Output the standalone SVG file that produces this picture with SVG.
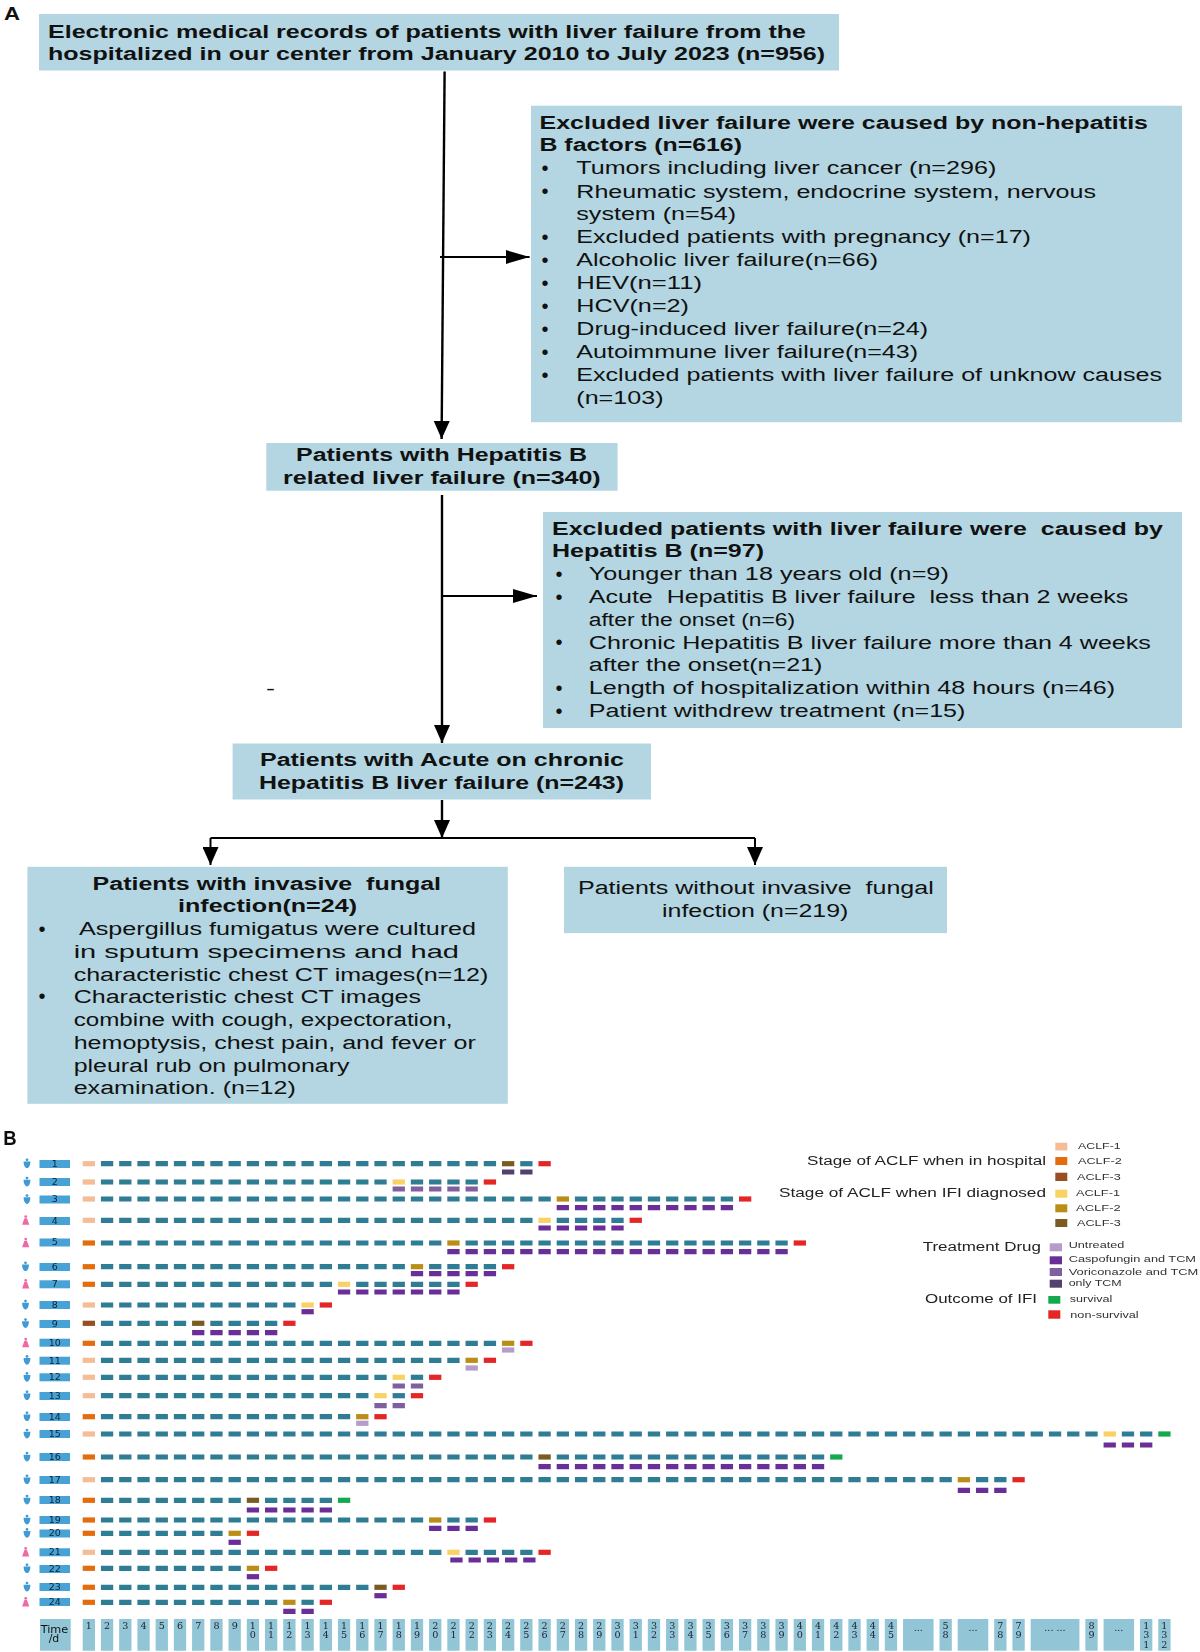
<svg xmlns="http://www.w3.org/2000/svg" width="1200" height="1652" viewBox="0 0 1200 1652">
<style>
text{font-family:"Liberation Sans",Arial,sans-serif;fill:#111;white-space:pre}
.t{font-size:18px}
.tb{font-size:18px;font-weight:700}
.bu{font-size:20px;text-anchor:middle}
.box{fill:#b3d6e2}
.con{fill:none;stroke:#000;stroke-width:2.4}
.lt{font-size:12px;fill:#222}
.ls{font-size:9.5px;fill:#333}
.lb{fill:#47a2d6}
.n{font-family:"DejaVu Sans",sans-serif;font-size:9.5px;text-anchor:middle;fill:#123}
.d{font-family:"DejaVu Serif",serif;font-size:9.6px;text-anchor:middle;fill:#223}
.cell{fill:#92c6d6}
path{fill:none;stroke-width:5.2}
.te{stroke:#2f7d94;stroke-dasharray:12.3 5.93}
.pu{stroke:#6a2f98;stroke-dasharray:12.3 5.93}
.vo{stroke:#7f5f9f;stroke-dasharray:12.3 5.93}
.un{stroke:#b69ccd}
.on{stroke:#52406e;stroke-dasharray:12.3 5.93}
.s1{stroke:#f4bd96}.s2{stroke:#e36c0f}.s3{stroke:#984d20}
.d1{stroke:#f8d265}.d2{stroke:#b98d14}.d3{stroke:#7a5c20}
.re{stroke:#e42526}.gr{stroke:#13a850}
</style>
<defs>
<marker id="ah" markerUnits="userSpaceOnUse" markerWidth="24" markerHeight="16" refX="24" refY="8" orient="auto"><polygon points="0,1 24,8 0,15" fill="#000"/></marker>
<marker id="av" markerUnits="userSpaceOnUse" markerWidth="18" markerHeight="16" refX="18" refY="8" orient="auto"><polygon points="0,0 18,8 0,16" fill="#000"/></marker>
<g id="m"><circle cy="-3.9" r="1.4" fill="#3f9bd5"/><path d="M-3.4-2.2H3.4C3.4 1 2.2 4.4 0 4.4S-3.4 1-3.4-2.2Z" style="fill:#3f9bd5;stroke:none"/></g>
<g id="f"><circle cy="-3.9" r="1.4" fill="#ee6aa7"/><path d="M-1.3-2.2H1.3L3.6 4.2H-3.6Z" style="fill:#ee6aa7;stroke:none"/></g>
<filter id="soft" x="0" y="0" width="1" height="1"><feGaussianBlur stdDeviation="0.4"/></filter>
</defs>
<text x="4" y="20" font-size="18" font-weight="700" textLength="16" lengthAdjust="spacingAndGlyphs">A</text>

<g id="connectors">
<path class="con" d="M444.6 71.4L441.6 439" marker-end="url(#av)" style="fill:none;stroke-width:2.4"/>
<path class="con" d="M440 257H529.6" marker-end="url(#ah)" style="fill:none;stroke-width:2"/>
<path class="con" d="M442 495V743" marker-end="url(#av)" style="fill:none;stroke-width:2.4"/>
<path class="con" d="M442 596H537" marker-end="url(#ah)" style="fill:none;stroke-width:2"/>
<path class="con" d="M442 800V838" marker-end="url(#av)" style="fill:none;stroke-width:2.4"/>
<path class="con" d="M210.5 838H755" style="fill:none;stroke-width:2"/>
<path class="con" d="M210.5 838V865" marker-end="url(#av)" style="fill:none;stroke-width:2"/>
<path class="con" d="M755 838V865" marker-end="url(#av)" style="fill:none;stroke-width:2"/>
</g>

<g id="node-records"><rect class="box" x="39" y="14" width="800" height="56.5"/>
<text class="tb" x="48" y="37.8" textLength="758" lengthAdjust="spacingAndGlyphs">Electronic medical records of patients with liver failure from the</text>
<text class="tb" x="48" y="60.3" textLength="777" lengthAdjust="spacingAndGlyphs">hospitalized in our center from January 2010 to July 2023 (n=956)</text></g>

<g id="node-excluded-1"><rect class="box" x="531" y="105.7" width="651" height="316.5"/>
<text class="tb" x="539.5" y="129.3" textLength="608.5" lengthAdjust="spacingAndGlyphs">Excluded liver failure were caused by non-hepatitis</text>
<text class="tb" x="539.5" y="151.3" textLength="202.5" lengthAdjust="spacingAndGlyphs">B factors (n=616)</text>
<text class="bu" x="545" y="175">•</text><text class="t" x="576.3" y="174.3" textLength="420" lengthAdjust="spacingAndGlyphs">Tumors including liver cancer (n=296)</text>
<text class="bu" x="545" y="198">•</text><text class="t" x="576.3" y="197.5" textLength="519.7" lengthAdjust="spacingAndGlyphs">Rheumatic system, endocrine system, nervous</text>
<text class="t" x="576.3" y="220.4" textLength="159.7" lengthAdjust="spacingAndGlyphs">system (n=54)</text>
<text class="bu" x="545" y="244">•</text><text class="t" x="576.3" y="243.2" textLength="454.7" lengthAdjust="spacingAndGlyphs">Excluded patients with pregnancy (n=17)</text>
<text class="bu" x="545" y="267">•</text><text class="t" x="576.3" y="266" textLength="301.7" lengthAdjust="spacingAndGlyphs">Alcoholic liver failure(n=66)</text>
<text class="bu" x="545" y="290">•</text><text class="t" x="576.3" y="289.3" textLength="125.7" lengthAdjust="spacingAndGlyphs">HEV(n=11)</text>
<text class="bu" x="545" y="313">•</text><text class="t" x="576.3" y="312" textLength="112.7" lengthAdjust="spacingAndGlyphs">HCV(n=2)</text>
<text class="bu" x="545" y="336">•</text><text class="t" x="576.3" y="335" textLength="351.7" lengthAdjust="spacingAndGlyphs">Drug-induced liver failure(n=24)</text>
<text class="bu" x="545" y="359">•</text><text class="t" x="576.3" y="358" textLength="341.7" lengthAdjust="spacingAndGlyphs">Autoimmune liver failure(n=43)</text>
<text class="bu" x="545" y="382">•</text><text class="t" x="576.3" y="381" textLength="585.7" lengthAdjust="spacingAndGlyphs">Excluded patients with liver failure of unknow causes</text>
<text class="t" x="576.3" y="404" textLength="87.2" lengthAdjust="spacingAndGlyphs">(n=103)</text></g>

<g id="node-hbv"><rect class="box" x="266.3" y="443" width="351.3" height="47.7"/>
<text class="tb" x="296" y="461.3" textLength="291" lengthAdjust="spacingAndGlyphs">Patients with Hepatitis B</text>
<text class="tb" x="283" y="483.8" textLength="317.7" lengthAdjust="spacingAndGlyphs">related liver failure (n=340)</text></g>

<g id="node-excluded-2"><rect class="box" x="543" y="512" width="639" height="216"/>
<text class="tb" x="552" y="534.6" textLength="611" lengthAdjust="spacingAndGlyphs">Excluded patients with liver failure were  caused by</text>
<text class="tb" x="552" y="557" textLength="212" lengthAdjust="spacingAndGlyphs">Hepatitis B (n=97)</text>
<text class="bu" x="559" y="580.5">•</text><text class="t" x="588.8" y="580" textLength="360" lengthAdjust="spacingAndGlyphs">Younger than 18 years old (n=9)</text>
<text class="bu" x="559" y="603.5">•</text><text class="t" x="588.8" y="603" textLength="539.6" lengthAdjust="spacingAndGlyphs">Acute  Hepatitis B liver failure  less than 2 weeks</text>
<text class="t" x="588.8" y="625.5" textLength="206.3" lengthAdjust="spacingAndGlyphs">after the onset (n=6)</text>
<text class="bu" x="559" y="649">•</text><text class="t" x="588.8" y="648.5" textLength="562.1" lengthAdjust="spacingAndGlyphs">Chronic Hepatitis B liver failure more than 4 weeks</text>
<text class="t" x="588.8" y="671" textLength="233.6" lengthAdjust="spacingAndGlyphs">after the onset(n=21)</text>
<text class="bu" x="559" y="694.5">•</text><text class="t" x="588.8" y="694" textLength="526.3" lengthAdjust="spacingAndGlyphs">Length of hospitalization within 48 hours (n=46)</text>
<text class="bu" x="559" y="717.5">•</text><text class="t" x="588.8" y="717" textLength="376.6" lengthAdjust="spacingAndGlyphs">Patient withdrew treatment (n=15)</text></g>

<text class="t" x="266" y="695" textLength="9" lengthAdjust="spacingAndGlyphs">-</text>

<g id="node-aclf"><rect class="box" x="232.6" y="743.5" width="418.4" height="56"/>
<text class="tb" x="260" y="766.3" textLength="364" lengthAdjust="spacingAndGlyphs">Patients with Acute on chronic</text>
<text class="tb" x="259" y="788.5" textLength="365" lengthAdjust="spacingAndGlyphs">Hepatitis B liver failure (n=243)</text></g>

<g id="node-ifi"><rect class="box" x="27.4" y="866.8" width="480.4" height="237"/>
<text class="tb" x="92.6" y="889.5" textLength="348.4" lengthAdjust="spacingAndGlyphs">Patients with invasive  fungal</text>
<text class="tb" x="178" y="912.3" textLength="179" lengthAdjust="spacingAndGlyphs">infection(n=24)</text>
<text class="bu" x="42" y="936">•</text><text class="t" x="79" y="935.3" textLength="397" lengthAdjust="spacingAndGlyphs">Aspergillus fumigatus were cultured</text>
<text class="t" x="73.7" y="958" textLength="385.3" lengthAdjust="spacingAndGlyphs">in sputum specimens and had</text>
<text class="t" x="73.7" y="980.5" textLength="414.7" lengthAdjust="spacingAndGlyphs">characteristic chest CT images(n=12)</text>
<text class="bu" x="42" y="1003">•</text><text class="t" x="73.7" y="1003.3" textLength="347.3" lengthAdjust="spacingAndGlyphs">Characteristic chest CT images</text>
<text class="t" x="73.7" y="1026" textLength="378.9" lengthAdjust="spacingAndGlyphs">combine with cough, expectoration,</text>
<text class="t" x="73.7" y="1048.8" textLength="402.1" lengthAdjust="spacingAndGlyphs">hemoptysis, chest pain, and fever or</text>
<text class="t" x="73.7" y="1071.5" textLength="275.8" lengthAdjust="spacingAndGlyphs">pleural rub on pulmonary</text>
<text class="t" x="73.7" y="1094" textLength="222.1" lengthAdjust="spacingAndGlyphs">examination. (n=12)</text></g>

<g id="node-no-ifi"><rect class="box" x="564" y="866.8" width="383" height="66.3"/>
<text class="t" x="578" y="894" textLength="355.7" lengthAdjust="spacingAndGlyphs">Patients without invasive  fungal</text>
<text class="t" x="662" y="916.5" textLength="186.4" lengthAdjust="spacingAndGlyphs">infection (n=219)</text></g>

<g id="panel-b" filter="url(#soft)">
<text x="3.3" y="1144.7" font-size="20" font-weight="700" textLength="13.4" lengthAdjust="spacingAndGlyphs">B</text>

<g id="legend">
<text class="lt" x="807" y="1165" textLength="239" lengthAdjust="spacingAndGlyphs">Stage of ACLF when in hospital</text>
<text class="lt" x="779" y="1197.3" textLength="267" lengthAdjust="spacingAndGlyphs">Stage of ACLF when IFI diagnosed</text>
<text class="lt" x="922.7" y="1250.7" textLength="118.3" lengthAdjust="spacingAndGlyphs">Treatment Drug</text>
<text class="lt" x="925" y="1303.3" textLength="112" lengthAdjust="spacingAndGlyphs">Outcome of IFI</text>
<rect x="1055.3" y="1142.7" width="12" height="7.8" fill="#f4bd96"/>
<rect x="1055.3" y="1157" width="12" height="8" fill="#e36c0f"/>
<rect x="1055.3" y="1172.7" width="12" height="8.3" fill="#984d20"/>
<rect x="1055.3" y="1189.7" width="12" height="8" fill="#f8d265"/>
<rect x="1055.3" y="1204.3" width="12" height="8" fill="#b98d14"/>
<rect x="1055.3" y="1219" width="12" height="8" fill="#7a5c20"/>
<rect x="1049.7" y="1243.3" width="12.3" height="8" fill="#b69ccd"/>
<rect x="1049.7" y="1256.3" width="12.3" height="8" fill="#6a2f98"/>
<rect x="1049.7" y="1268" width="12.3" height="8" fill="#7f5f9f"/>
<rect x="1049.7" y="1279.7" width="12.3" height="8" fill="#52406e"/>
<rect x="1048.3" y="1296" width="12" height="7.7" fill="#13a850"/>
<rect x="1048.3" y="1310.3" width="12" height="8.4" fill="#e42526"/>
<text class="ls" x="1078" y="1149.3" textLength="42.7" lengthAdjust="spacingAndGlyphs">ACLF-1</text>
<text class="ls" x="1078" y="1164" textLength="43.7" lengthAdjust="spacingAndGlyphs">ACLF-2</text>
<text class="ls" x="1077" y="1180" textLength="43.7" lengthAdjust="spacingAndGlyphs">ACLF-3</text>
<text class="ls" x="1076" y="1196.3" textLength="44" lengthAdjust="spacingAndGlyphs">ACLF-1</text>
<text class="ls" x="1076" y="1211.3" textLength="44.7" lengthAdjust="spacingAndGlyphs">ACLF-2</text>
<text class="ls" x="1077" y="1226.3" textLength="43.7" lengthAdjust="spacingAndGlyphs">ACLF-3</text>
<text class="ls" x="1068.7" y="1248.3" textLength="55.6" lengthAdjust="spacingAndGlyphs">Untreated</text>
<text class="ls" x="1068.7" y="1262" textLength="127.3" lengthAdjust="spacingAndGlyphs">Caspofungin and TCM</text>
<text class="ls" x="1068.7" y="1275" textLength="129.6" lengthAdjust="spacingAndGlyphs">Voriconazole and TCM</text>
<text class="ls" x="1068.7" y="1286" textLength="53" lengthAdjust="spacingAndGlyphs">only TCM</text>
<text class="ls" x="1069.7" y="1302" textLength="42.6" lengthAdjust="spacingAndGlyphs">survival</text>
<text class="ls" x="1070.3" y="1317.7" textLength="68.4" lengthAdjust="spacingAndGlyphs">non-survival</text>
</g>

<g id="row-1"><rect class="lb" x="39.5" y="1160" width="30.5" height="8"/><text class="n" x="54.7" y="1166.8">1</text><use href="#m" x="27" y="1163.7"/><path class="s1" d="M82.7 1163.7h12.3"/><path class="te" d="M100.93 1163.7H496.06"/><path class="d3" d="M501.99 1163.7h12.3"/><path class="te" d="M520.22 1163.7h12.3"/><path class="re" d="M538.45 1163.7h12.3"/><path class="on" d="M501.99 1172H532.52"/></g>
<g id="row-2"><rect class="lb" x="39.5" y="1178" width="30.5" height="8"/><text class="n" x="54.7" y="1184.8">2</text><use href="#m" x="27" y="1182"/><path class="s1" d="M82.7 1182h12.3"/><path class="te" d="M100.93 1182H386.68"/><path class="d1" d="M392.61 1182h12.3"/><path class="te" d="M410.84 1182H477.83"/><path class="re" d="M483.76 1182h12.3"/><path class="vo" d="M392.61 1189H477.83"/></g>
<g id="row-3"><rect class="lb" x="39.5" y="1195.5" width="30.5" height="8"/><text class="n" x="54.7" y="1202.3">3</text><use href="#m" x="27" y="1199.5"/><path class="s1" d="M82.7 1199h12.3"/><path class="te" d="M100.93 1199H550.75"/><path class="d2" d="M556.68 1199h12.3"/><path class="te" d="M574.91 1199H733.05"/><path class="re" d="M738.98 1199h12.3"/><path class="pu" d="M556.68 1207.7H733.05"/></g>
<g id="row-4"><rect class="lb" x="39.5" y="1217" width="30.5" height="8"/><text class="n" x="54.7" y="1223.8">4</text><use href="#f" x="25.7" y="1220.5"/><path class="s1" d="M82.7 1220.3h12.3"/><path class="te" d="M100.93 1220.3H532.52"/><path class="d1" d="M538.45 1220.3h12.3"/><path class="te" d="M556.68 1220.3H623.67"/><path class="re" d="M629.6 1220.3h12.3"/><path class="pu" d="M538.45 1228H623.67"/></g>
<g id="row-5"><rect class="lb" x="39.5" y="1238.5" width="30.5" height="8"/><text class="n" x="54.7" y="1245.3">5</text><use href="#f" x="25.7" y="1243"/><path class="s2" d="M82.7 1243h12.3"/><path class="te" d="M100.93 1243H441.37"/><path class="d2" d="M447.3 1243h12.3"/><path class="te" d="M465.53 1243H787.74"/><path class="re" d="M793.67 1243h12.3"/><path class="pu" d="M447.3 1251.7H787.74"/></g>
<g id="row-6"><rect class="lb" x="39.5" y="1263" width="30.5" height="8"/><text class="n" x="54.7" y="1269.8">6</text><use href="#m" x="25.5" y="1266.7"/><path class="s2" d="M82.7 1266.7h12.3"/><path class="te" d="M100.93 1266.7H404.91"/><path class="d2" d="M410.84 1266.7h12.3"/><path class="te" d="M429.07 1266.7H496.06"/><path class="re" d="M501.99 1266.7h12.3"/><path class="pu" d="M410.84 1273.7H496.06"/></g>
<g id="row-7"><rect class="lb" x="39.5" y="1280.3" width="30.5" height="8"/><text class="n" x="54.7" y="1287.1">7</text><use href="#f" x="25.7" y="1284.3"/><path class="s2" d="M82.7 1284.3h12.3"/><path class="te" d="M100.93 1284.3H331.99"/><path class="d1" d="M337.92 1284.3h12.3"/><path class="te" d="M356.15 1284.3H459.6"/><path class="re" d="M465.53 1284.3h12.3"/><path class="pu" d="M337.92 1292H459.6"/></g>
<g id="row-8"><rect class="lb" x="39.5" y="1301" width="30.5" height="8"/><text class="n" x="54.7" y="1307.8">8</text><use href="#m" x="25.5" y="1305"/><path class="s1" d="M82.7 1305h12.3"/><path class="te" d="M100.93 1305H295.53"/><path class="d1" d="M301.46 1305h12.3"/><path class="re" d="M319.69 1305h12.3"/><path class="pu" d="M301.46 1311.7h12.3"/></g>
<g id="row-9"><rect class="lb" x="39.5" y="1320" width="30.5" height="8"/><text class="n" x="54.7" y="1326.8">9</text><use href="#m" x="25.5" y="1323.5"/><path class="s3" d="M82.7 1323.3h12.3"/><path class="te" d="M100.93 1323.3H186.15"/><path class="d3" d="M192.08 1323.3h12.3"/><path class="te" d="M210.31 1323.3H277.3"/><path class="re" d="M283.23 1323.3h12.3"/><path class="pu" d="M192.08 1332.7H277.3"/></g>
<g id="row-10"><rect class="lb" x="39.5" y="1338.7" width="30.5" height="8"/><text class="n" x="54.7" y="1345.5">10</text><use href="#f" x="25.7" y="1343"/><path class="s2" d="M82.7 1343.3h12.3"/><path class="te" d="M100.93 1343.3H496.06"/><path class="d2" d="M501.99 1343.3h12.3"/><path class="re" d="M520.22 1343.3h12.3"/><path class="un" d="M501.99 1350h12.3"/></g>
<g id="row-11"><rect class="lb" x="39.5" y="1356.7" width="30.5" height="8"/><text class="n" x="54.7" y="1363.5">11</text><use href="#m" x="27" y="1360.3"/><path class="s1" d="M82.7 1360.3h12.3"/><path class="te" d="M100.93 1360.3H459.6"/><path class="d2" d="M465.53 1360.3h12.3"/><path class="re" d="M483.76 1360.3h12.3"/><path class="un" d="M465.53 1368h12.3"/></g>
<g id="row-12"><rect class="lb" x="39.5" y="1373.3" width="30.5" height="8"/><text class="n" x="54.7" y="1380.1">12</text><use href="#m" x="27" y="1377.3"/><path class="s1" d="M82.7 1377.3h12.3"/><path class="te" d="M100.93 1377.3H386.68"/><path class="d1" d="M392.61 1377.3h12.3"/><path class="te" d="M410.84 1377.3h12.3"/><path class="re" d="M429.07 1377.3h12.3"/><path class="vo" d="M392.61 1386H423.14"/></g>
<g id="row-13"><rect class="lb" x="39.5" y="1392" width="30.5" height="8"/><text class="n" x="54.7" y="1398.8">13</text><use href="#m" x="27" y="1395.7"/><path class="s1" d="M82.7 1395.7h12.3"/><path class="te" d="M100.93 1395.7H368.45"/><path class="d1" d="M374.38 1395.7h12.3"/><path class="te" d="M392.61 1395.7h12.3"/><path class="re" d="M410.84 1395.7h12.3"/><path class="vo" d="M374.38 1405.7H404.91"/></g>
<g id="row-14"><rect class="lb" x="39.5" y="1413" width="30.5" height="8"/><text class="n" x="54.7" y="1419.8">14</text><use href="#m" x="27" y="1416.7"/><path class="s2" d="M82.7 1416.7h12.3"/><path class="te" d="M100.93 1416.7H350.22"/><path class="d2" d="M356.15 1416.7h12.3"/><path class="re" d="M374.38 1416.7h12.3"/><path class="un" d="M356.15 1423.3h12.3"/></g>
<g id="row-15"><rect class="lb" x="39.5" y="1430" width="30.5" height="8"/><text class="n" x="54.7" y="1436.8">15</text><use href="#m" x="27" y="1434"/><path class="s1" d="M82.7 1434h12.3"/><path class="te" d="M100.93 1434H1097.65"/><path class="d1" d="M1103.58 1434h12.3"/><path class="te" d="M1121.81 1434H1152.34"/><path class="gr" d="M1158.27 1434h12.3"/><path class="pu" d="M1103.58 1445H1152.34"/></g>
<g id="row-16"><rect class="lb" x="39.5" y="1453" width="30.5" height="8"/><text class="n" x="54.7" y="1459.8">16</text><use href="#m" x="27" y="1457"/><path class="s2" d="M82.7 1457h12.3"/><path class="te" d="M100.93 1457H532.52"/><path class="d3" d="M538.45 1457h12.3"/><path class="te" d="M556.68 1457H824.2"/><path class="gr" d="M830.13 1457h12.3"/><path class="pu" d="M538.45 1466.7H824.2"/></g>
<g id="row-17"><rect class="lb" x="39.5" y="1476" width="30.5" height="8"/><text class="n" x="54.7" y="1482.8">17</text><use href="#m" x="27" y="1479.7"/><path class="s1" d="M82.7 1479.7h12.3"/><path class="te" d="M100.93 1479.7H951.81"/><path class="d2" d="M957.74 1479.7h12.3"/><path class="te" d="M975.97 1479.7H1006.5"/><path class="re" d="M1012.43 1479.7h12.3"/><path class="pu" d="M957.74 1490.3H1006.5"/></g>
<g id="row-18"><rect class="lb" x="39.5" y="1496" width="30.5" height="8"/><text class="n" x="54.7" y="1502.8">18</text><use href="#m" x="27" y="1500"/><path class="s2" d="M82.7 1500.3h12.3"/><path class="te" d="M100.93 1500.3H240.84"/><path class="d3" d="M246.77 1500.3h12.3"/><path class="te" d="M265 1500.3H331.99"/><path class="gr" d="M337.92 1500.3h12.3"/><path class="pu" d="M246.77 1510H331.99"/></g>
<g id="row-19"><rect class="lb" x="39.5" y="1516" width="30.5" height="8"/><text class="n" x="54.7" y="1522.8">19</text><use href="#m" x="27" y="1520"/><path class="s2" d="M82.7 1520h12.3"/><path class="te" d="M100.93 1520H423.14"/><path class="d2" d="M429.07 1520h12.3"/><path class="te" d="M447.3 1520H477.83"/><path class="re" d="M483.76 1520h12.3"/><path class="pu" d="M429.07 1528.3H477.83"/></g>
<g id="row-20"><rect class="lb" x="39.5" y="1529.5" width="30.5" height="8"/><text class="n" x="54.7" y="1536.3">20</text><use href="#m" x="27" y="1533.3"/><path class="s2" d="M82.7 1533.3h12.3"/><path class="te" d="M100.93 1533.3H222.61"/><path class="d2" d="M228.54 1533.3h12.3"/><path class="re" d="M246.77 1533.3h12.3"/><path class="pu" d="M228.54 1542.3h12.3"/></g>
<g id="row-21"><rect class="lb" x="39.5" y="1548.3" width="30.5" height="8"/><text class="n" x="54.7" y="1555.1">21</text><use href="#f" x="25.7" y="1552.3"/><path class="s1" d="M82.7 1552.3h12.3"/><path class="te" d="M100.93 1552.3H441.37"/><path class="d1" d="M447.3 1552.3h12.3"/><path class="te" d="M465.53 1552.3H532.52"/><path class="re" d="M538.45 1552.3h12.3"/><path class="pu" d="M450.3 1560H535.52"/></g>
<g id="row-22"><rect class="lb" x="39.5" y="1565" width="30.5" height="8"/><text class="n" x="54.7" y="1571.8">22</text><use href="#m" x="27" y="1568.7"/><path class="s2" d="M82.7 1568.3h12.3"/><path class="te" d="M100.93 1568.3H240.84"/><path class="d2" d="M246.77 1568.3h12.3"/><path class="re" d="M265 1568.3h12.3"/><path class="pu" d="M246.77 1576.7h12.3"/></g>
<g id="row-23"><rect class="lb" x="39.5" y="1583" width="30.5" height="8"/><text class="n" x="54.7" y="1589.8">23</text><use href="#m" x="27" y="1587"/><path class="s2" d="M82.7 1587.3h12.3"/><path class="te" d="M100.93 1587.3H368.45"/><path class="d3" d="M374.38 1587.3h12.3"/><path class="re" d="M392.61 1587.3h12.3"/><path class="pu" d="M374.38 1595.7h12.3"/></g>
<g id="row-24"><rect class="lb" x="39.5" y="1598" width="30.5" height="8"/><text class="n" x="54.7" y="1604.8">24</text><use href="#f" x="25.7" y="1602.3"/><path class="s2" d="M82.7 1602.3h12.3"/><path class="te" d="M100.93 1602.3H277.3"/><path class="d2" d="M283.23 1602.3h12.3"/><path class="te" d="M301.46 1602.3h12.3"/><path class="re" d="M319.69 1602.3h12.3"/><path class="pu" d="M283.23 1611.3H313.76"/></g>

<g id="time-axis">
<rect class="cell" x="40" y="1619" width="30.7" height="31.7"/>
<text x="40.7" y="1632.7" font-size="10" style="font-family:'DejaVu Sans',sans-serif" textLength="27.6" lengthAdjust="spacingAndGlyphs">Time</text>
<text x="48.7" y="1641.7" font-size="10" style="font-family:'DejaVu Sans',sans-serif" textLength="10.6" lengthAdjust="spacingAndGlyphs">/d</text>
<path d="M82.7 1634.85H897.12" style="stroke:#92c6d6;stroke-width:31.7;stroke-dasharray:12.3 5.93"/>
<rect class="cell" x="903.05" y="1619" width="30.53" height="31.7"/>
<rect class="cell" x="939.51" y="1619" width="12.3" height="31.7"/>
<rect class="cell" x="957.74" y="1619" width="30.53" height="31.7"/>
<rect class="cell" x="994.2" y="1619" width="12.3" height="31.7"/>
<rect class="cell" x="1012.43" y="1619" width="12.3" height="31.7"/>
<rect class="cell" x="1030.66" y="1619" width="48.76" height="31.7"/>
<rect class="cell" x="1085.35" y="1619" width="12.3" height="31.7"/>
<rect class="cell" x="1103.58" y="1619" width="30.53" height="31.7"/>
<rect class="cell" x="1140.04" y="1619" width="12.3" height="31.7"/>
<rect class="cell" x="1158.27" y="1619" width="12.3" height="31.7"/>
<text class="d" x="88.85" y="1628.5">1</text><text class="d" x="107.08" y="1628.5">2</text><text class="d" x="125.31" y="1628.5">3</text><text class="d" x="143.54" y="1628.5">4</text><text class="d" x="161.77" y="1628.5">5</text><text class="d" x="180" y="1628.5">6</text><text class="d" x="198.23" y="1628.5">7</text><text class="d" x="216.46" y="1628.5">8</text><text class="d" x="234.69" y="1628.5">9</text>
<text class="d" x="252.92 252.92" y="1628.5 1638">10</text><text class="d" x="271.15 271.15" y="1628.5 1638">11</text><text class="d" x="289.38 289.38" y="1628.5 1638">12</text><text class="d" x="307.61 307.61" y="1628.5 1638">13</text><text class="d" x="325.84 325.84" y="1628.5 1638">14</text><text class="d" x="344.07 344.07" y="1628.5 1638">15</text><text class="d" x="362.3 362.3" y="1628.5 1638">16</text><text class="d" x="380.53 380.53" y="1628.5 1638">17</text><text class="d" x="398.76 398.76" y="1628.5 1638">18</text><text class="d" x="416.99 416.99" y="1628.5 1638">19</text><text class="d" x="435.22 435.22" y="1628.5 1638">20</text><text class="d" x="453.45 453.45" y="1628.5 1638">21</text><text class="d" x="471.68 471.68" y="1628.5 1638">22</text><text class="d" x="489.91 489.91" y="1628.5 1638">23</text><text class="d" x="508.14 508.14" y="1628.5 1638">24</text><text class="d" x="526.37 526.37" y="1628.5 1638">25</text><text class="d" x="544.6 544.6" y="1628.5 1638">26</text><text class="d" x="562.83 562.83" y="1628.5 1638">27</text><text class="d" x="581.06 581.06" y="1628.5 1638">28</text><text class="d" x="599.29 599.29" y="1628.5 1638">29</text><text class="d" x="617.52 617.52" y="1628.5 1638">30</text><text class="d" x="635.75 635.75" y="1628.5 1638">31</text><text class="d" x="653.98 653.98" y="1628.5 1638">32</text><text class="d" x="672.21 672.21" y="1628.5 1638">33</text><text class="d" x="690.44 690.44" y="1628.5 1638">34</text><text class="d" x="708.67 708.67" y="1628.5 1638">35</text><text class="d" x="726.9 726.9" y="1628.5 1638">36</text><text class="d" x="745.13 745.13" y="1628.5 1638">37</text><text class="d" x="763.36 763.36" y="1628.5 1638">38</text><text class="d" x="781.59 781.59" y="1628.5 1638">39</text><text class="d" x="799.82 799.82" y="1628.5 1638">40</text><text class="d" x="818.05 818.05" y="1628.5 1638">41</text><text class="d" x="836.28 836.28" y="1628.5 1638">42</text><text class="d" x="854.51 854.51" y="1628.5 1638">43</text><text class="d" x="872.74 872.74" y="1628.5 1638">44</text><text class="d" x="890.97 890.97" y="1628.5 1638">45</text>
<text class="d" x="918.3" y="1631">...</text>
<text class="d" x="945.66 945.66" y="1628.5 1638">58</text>
<text class="d" x="973" y="1631">...</text>
<text class="d" x="1000.35 1000.35" y="1628.5 1638">78</text>
<text class="d" x="1018.58 1018.58" y="1628.5 1638">79</text>
<text class="d" x="1055" y="1631">... ...</text>
<text class="d" x="1091.5 1091.5" y="1628.5 1638">89</text>
<text class="d" x="1118.8" y="1631">...</text>
<text class="d" x="1146.19 1146.19 1146.19" y="1628.5 1638 1647.5">131</text>
<text class="d" x="1164.42 1164.42 1164.42" y="1628.5 1638 1647.5">132</text>
</g>
</g>
</svg>
